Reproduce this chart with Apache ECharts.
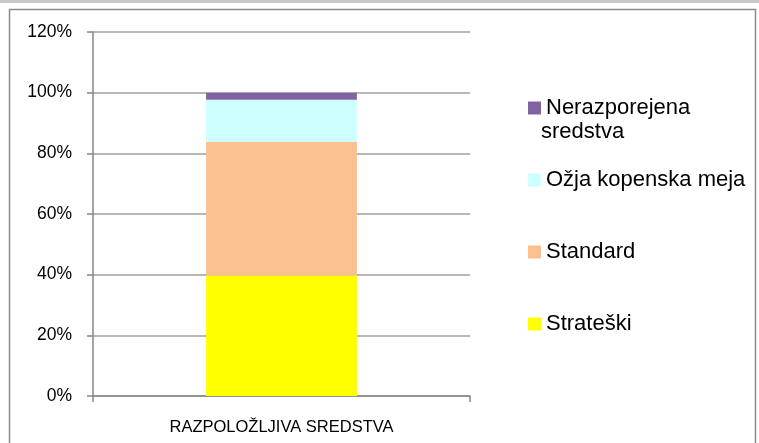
<!DOCTYPE html>
<html>
<head>
<meta charset="utf-8">
<script src="https://cdn.jsdelivr.net/npm/echarts@6/dist/echarts.min.js"></script>
<style>
    html, body { margin: 0; padding: 0; background: #fff; }
    #chart { width: 759px; height: 443px; }
</style>
</head>
<body>
<div id="chart"></div>
<script>
    // podatki
    const categories = ['RAZPOLOŽLJIVA SREDSTVA'];
    const seriesNames = ['Strateški', 'Standard', 'Ožja kopenska meja', 'Nerazporejena sredstva'];
    const strateski = [39.7];
    const standard = [44.1];
    const ozja = [13.9];
    const nerazporejena = [2.3];
    const seriesColors = ['#ffff00', '#fac090', '#ccffff', '#8064a2'];
    const seriesData = [strateski, standard, ozja, nerazporejena];

    const font = 'Liberation Sans, Arial, sans-serif';
    const chart = echarts.init(document.getElementById('chart'));

    chart.setOption({
        animation: false,
        backgroundColor: '#ffffff',
        grid: { left: 93, right: 289, top: 32, bottom: 47 },
        legend: {
            orient: 'vertical',
            left: 523,
            top: 90,
            itemWidth: 13,
            itemHeight: 13,
            itemGap: 46,
            icon: 'rect',
            data: seriesNames.slice().reverse(),
            formatter: function (name) {
                return name === 'Nerazporejena sredstva' ? 'Nerazporejena' : name;
            },
            textStyle: { fontFamily: font, fontSize: 22, color: '#000', lineHeight: 26 }
        },
        graphic: [
            {
                type: 'rect',
                left: 0, top: 0,
                shape: { width: 759, height: 3 },
                style: { fill: '#c8c8c8' },
                silent: true
            },
            {
                type: 'rect',
                shape: { x: 9.5, y: 9.5, width: 746, height: 450 },
                style: { fill: 'none', stroke: '#8c8c8c', lineWidth: 1.5 },
                silent: true
            },
            {
                type: 'text',
                x: 541, y: 132,
                style: {
                    text: 'sredstva', fontFamily: font, fontSize: 22, fill: '#000',
                    verticalAlign: 'middle'
                },
                silent: true
            }
        ],
        xAxis: {
            type: 'category',
            data: categories,
            axisLine: { lineStyle: { color: '#868686', width: 1.5 } },
            axisTick: { show: true, length: 6, lineStyle: { color: '#868686', width: 1.5 } },
            axisLabel: { margin: 23, fontFamily: font, fontSize: 16.5, color: '#000' }
        },
        yAxis: {
            type: 'value',
            min: 0,
            max: 120,
            interval: 20,
            axisLine: { show: true, lineStyle: { color: '#868686', width: 1.5 } },
            axisTick: { show: true, length: 6, lineStyle: { color: '#868686', width: 1.5 } },
            splitLine: { lineStyle: { color: '#a0a0a0', width: 1.5 } },
            axisLabel: {
                margin: 21, fontFamily: font, fontSize: 17.5, color: '#000',
                formatter: '{value}%'
            }
        },
        series: seriesNames.map(function (name, i) {
            return {
                name: name,
                type: 'bar',
                stack: 'skupaj',
                barWidth: '40%',
                itemStyle: { color: seriesColors[i] },
                data: seriesData[i]
            };
        })
    });
</script>
</body>
</html>
